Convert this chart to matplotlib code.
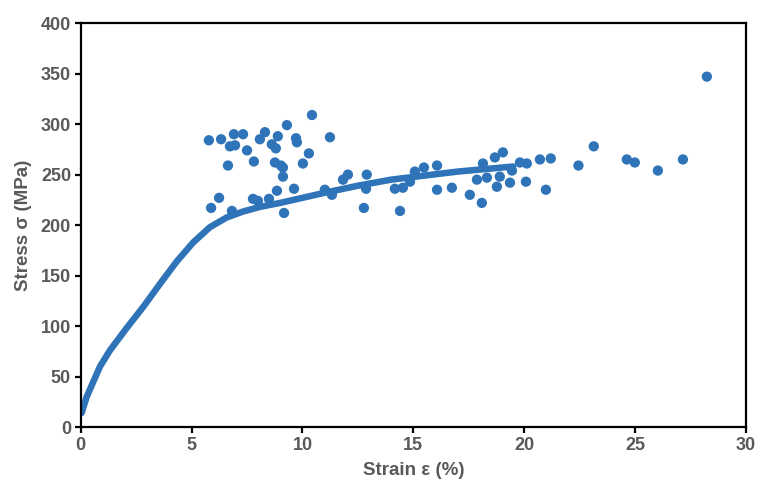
import matplotlib.pyplot as plt

plt.rcParams['font.family'] = ['Liberation Sans', 'DejaVu Sans']

# fitted stress-strain curve
curve_strain = [0.04, 0.27, 0.57, 0.87, 1.32, 2.07, 2.82, 3.58, 4.33, 5.08, 5.83, 6.58,
                7.33, 8.08, 9.0, 10.0, 11.0, 12.5, 14.0, 15.5, 17.0, 18.5, 19.5]
curve_stress = [14, 30, 45, 60, 76, 98, 119, 142, 164, 183, 198, 207.5,
                213.5, 218, 222, 227, 232, 239, 245, 249, 253, 256, 258]

# measured points
pt_strain = [5.78, 6.33, 6.91, 7.32, 6.73, 6.96, 7.50, 6.64, 7.81, 8.31, 8.08, 8.89,
             9.30, 10.43, 8.62, 8.80, 9.71, 9.75, 11.24, 10.29, 10.02, 8.76, 9.12,
             9.03, 9.12, 8.85, 9.62, 6.24, 5.88, 6.82, 7.77, 7.99, 8.49, 9.17, 11.01,
             11.33, 11.83, 12.05, 12.90, 12.87, 12.77, 14.17, 14.53, 14.40, 14.85,
             15.07, 15.48, 16.07, 16.07, 16.74, 17.55, 17.87, 18.09, 18.14, 18.32,
             18.68, 19.04, 18.77, 18.90, 19.36, 19.45, 19.81, 20.12, 20.08, 20.71,
             21.20, 20.98, 22.45, 23.14, 24.63, 24.99, 26.03, 27.16, 28.24]
pt_stress = [284, 285, 290, 290, 278, 279, 274, 259, 263, 292, 285, 288,
             299, 309, 280, 276, 286, 282, 287, 271, 261, 262, 257,
             259, 248, 234, 236, 227, 217, 214, 226, 224, 226, 212, 235,
             230, 245, 250, 250, 236, 217, 236, 237, 214, 243,
             253, 257, 259, 235, 237, 230, 245, 222, 261, 247,
             267, 272, 238, 248, 242, 254, 262, 261, 243, 265,
             266, 235, 259, 278, 265, 262, 254, 265, 347]

blue = '#2f74b8'
grey = '#595959'

fig = plt.figure(figsize=(7.58, 4.82), dpi=100)
ax = fig.add_axes([0.1065, 0.114, 0.8775, 0.838])

ax.plot(curve_strain, curve_stress, color=blue, lw=4.7, solid_capstyle='round',
        solid_joinstyle='round', zorder=2)
ax.scatter(pt_strain, pt_stress, s=55, color=blue, edgecolors='none', zorder=3)

ax.set_xlim(0, 30)
ax.set_ylim(0, 400)
ax.set_xticks(range(0, 31, 5))
ax.set_yticks(range(0, 401, 50))

for s in ax.spines.values():
    s.set_linewidth(1.6)
    s.set_color('black')

ax.tick_params(direction='out', length=4, width=1.6, color='black',
               labelsize=13, labelcolor=grey, pad=3)
for lbl in ax.get_xticklabels() + ax.get_yticklabels():
    lbl.set_fontweight('bold')

ax.set_xlabel('Strain ε (%)', fontsize=13.5, fontweight='bold', color=grey, labelpad=6)
ax.set_ylabel('Stress σ (MPa)', fontsize=13.5, fontweight='bold', color=grey, labelpad=6)

fig.savefig('out.png', dpi=100)
